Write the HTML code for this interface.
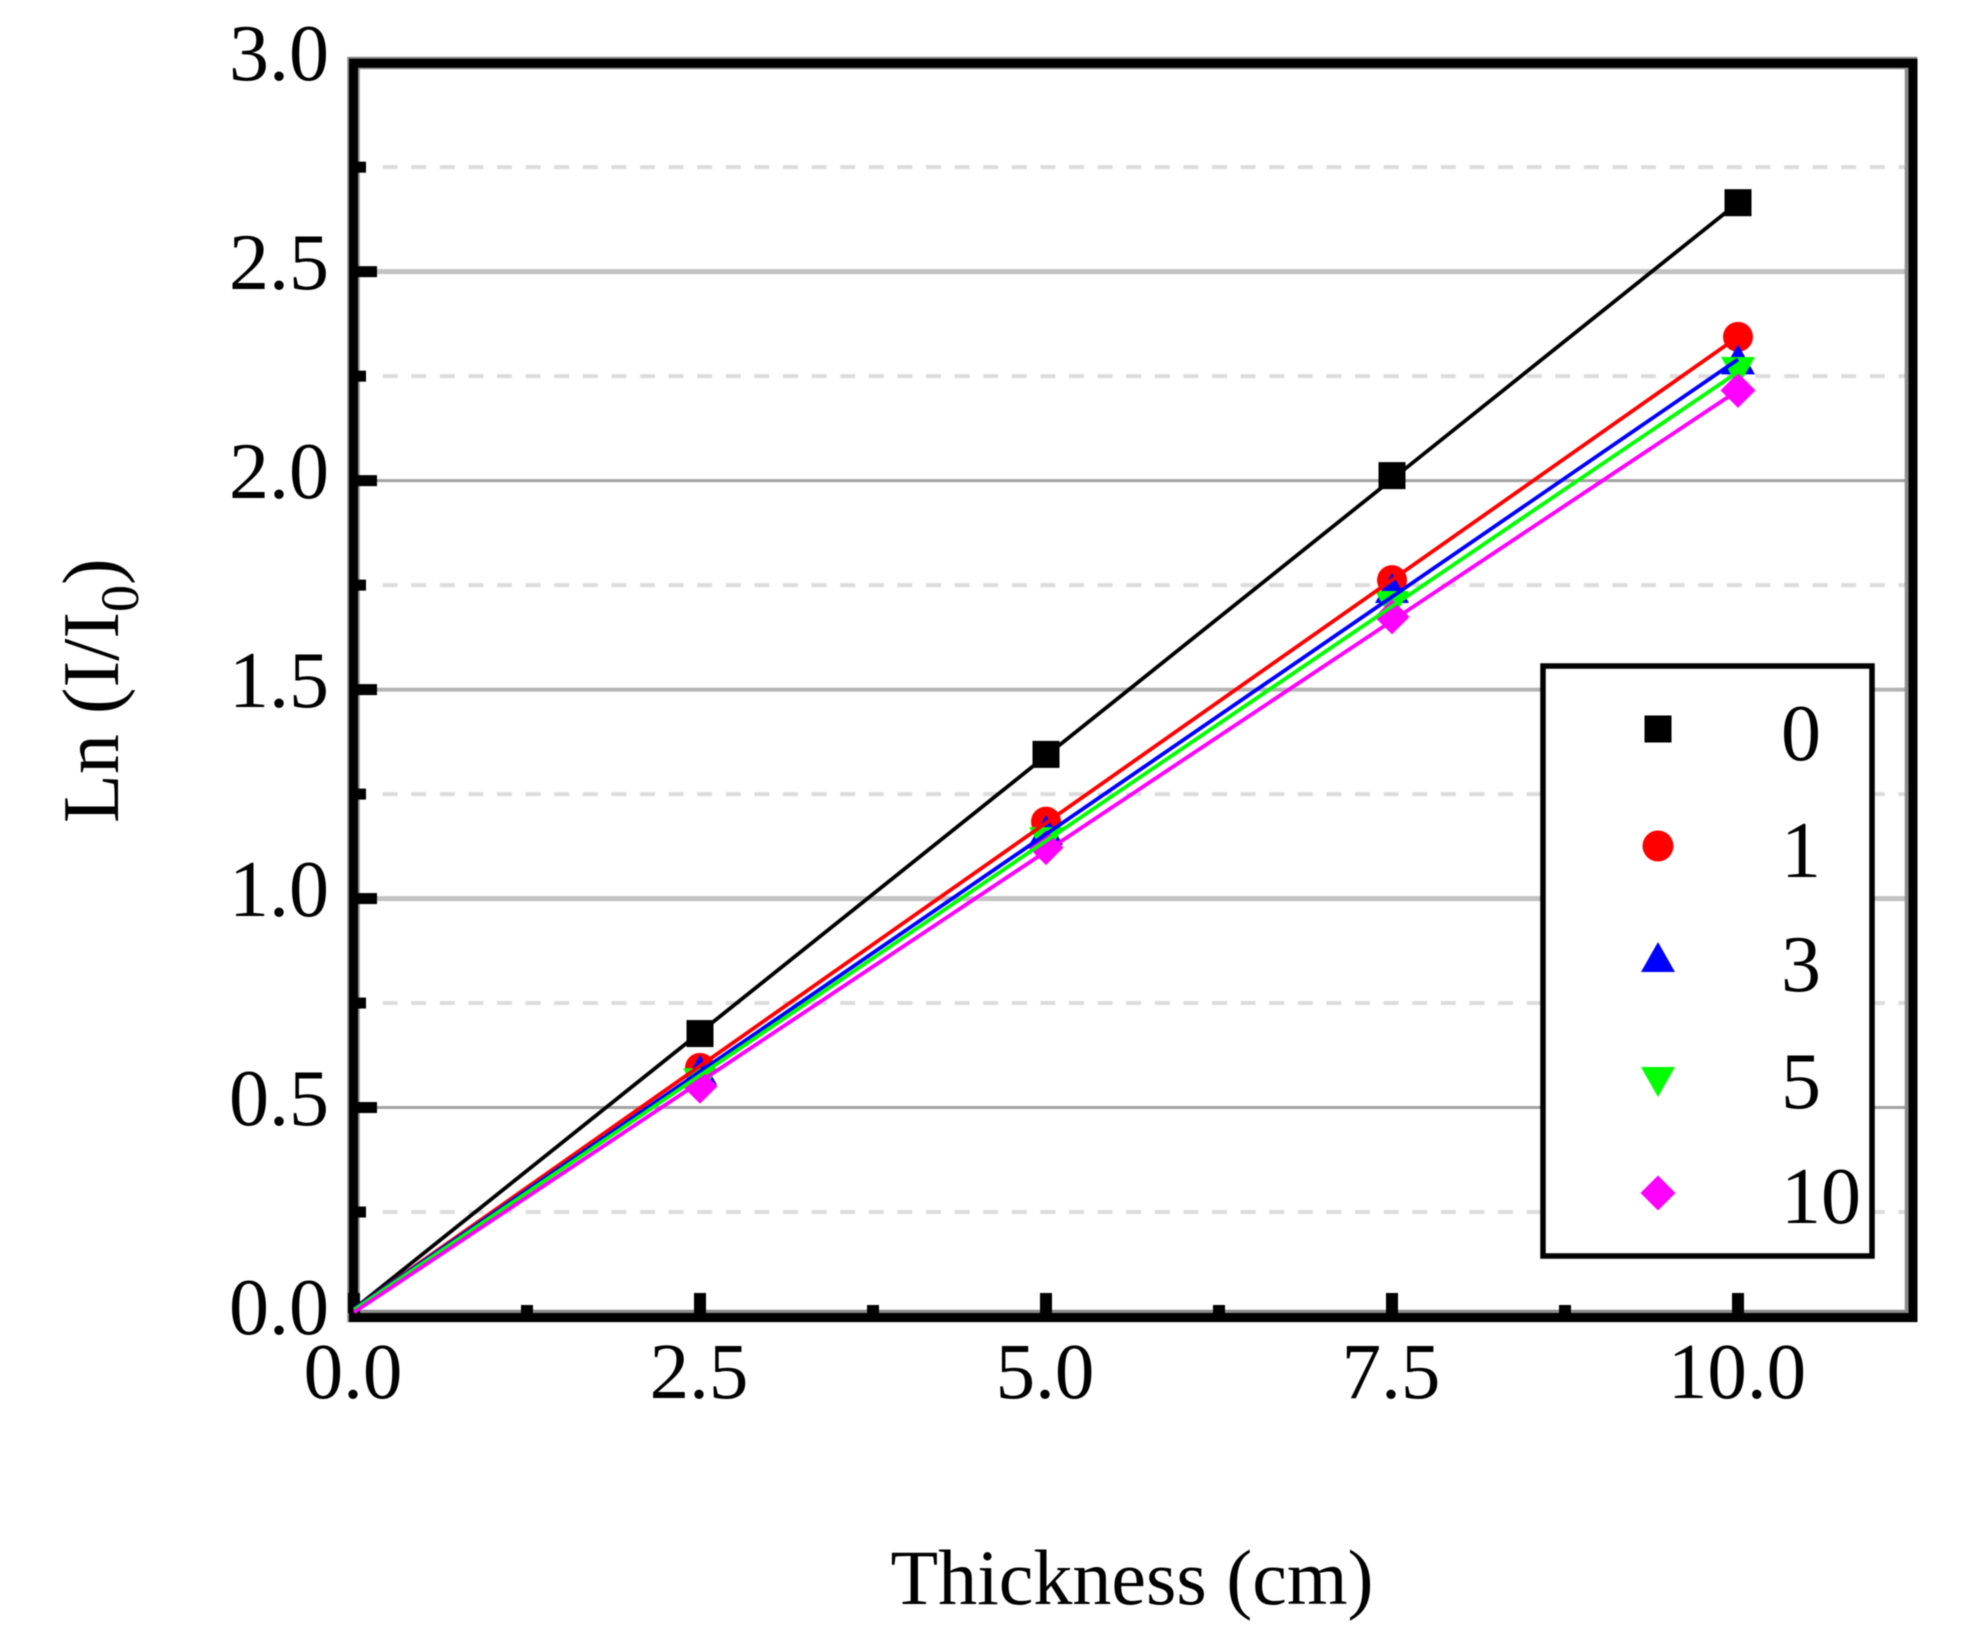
<!DOCTYPE html>
<html lang="en">
<head>
<meta charset="utf-8">
<title>Ln (I/I0) vs Thickness</title>
<style>
html,body{margin:0;padding:0;background:#fff;}
svg{display:block;filter:blur(0.6px);}
text{font-family:"Liberation Serif","DejaVu Serif",serif;fill:#000;}
</style>
</head>
<body>
<svg id="chart" xmlns="http://www.w3.org/2000/svg" width="1973" height="1650" viewBox="0 0 1973 1650">
<rect x="0" y="0" width="1973" height="1650" fill="#fff"/>
<g id="grid"></g>
<g id="axes"></g>
<g id="seriesTop"></g>
<text x="1132" y="1604" font-size="78" text-anchor="middle">Thickness (cm)</text>
<text transform="translate(118 823) rotate(-90)" font-size="80">Ln (I/I<tspan font-size="54" dy="20">0</tspan><tspan dy="-20">)</tspan></text>
<g id="legend"></g>
</svg>
<script>
const thickness = [0, 2.5, 5, 7.5, 10];
const seriesNames = ["0", "1", "3", "5", "10"];
const values0 = [0.018, 0.677, 1.345, 2.012, 2.665];
const values1 = [0.018, 0.595, 1.184, 1.762, 2.344];
const values3 = [0.018, 0.59, 1.164, 1.743, 2.29];
const values5 = [0.016, 0.558, 1.135, 1.70, 2.26];
const values10 = [0.01, 0.551, 1.122, 1.674, 2.216];
const xTickLabels = ["0.0", "2.5", "5.0", "7.5", "10.0"];
const xMajorTicks = [0, 2.5, 5, 7.5, 10];
const xMinorTicks = [1.25, 3.75, 6.25, 8.75];
const yTickLabels = ["0.0", "0.5", "1.0", "1.5", "2.0", "2.5", "3.0"];
const yMajorTicks = [0, 0.5, 1, 1.5, 2, 2.5, 3];
const yMinorTicks = [0.25, 0.75, 1.25, 1.75, 2.25, 2.75];

const X0 = 354, X1 = 1911, Y0 = 1316.5, Y1 = 62.7;
const X_MAX = 11.25, Y_MAX = 3;
function xScale(v){ return X0 + (v / X_MAX) * (X1 - X0); }
function yScale(v){ return Y0 - (v / Y_MAX) * (Y0 - Y1); }

const NS = "http://www.w3.org/2000/svg";
function make(tag, parent, attrs){
  const el = document.createElementNS(NS, tag);
  for (const k in attrs) el.setAttribute(k, attrs[k]);
  parent.appendChild(el);
  return el;
}

function drawMarker(shape, color, cx, cy, parent, big){
  if (shape === "square") {
    return make("rect", parent, {x: cx - 13.5, y: cy - 13.5, width: 27, height: 27, fill: color});
  }
  if (shape === "circle") {
    return make("circle", parent, {cx: cx, cy: cy, r: big ? 15.5 : 15, fill: color});
  }
  if (shape === "up") {
    return make("polygon", parent, {points: (cx-17)+","+(cy+15)+" "+(cx+17)+","+(cy+15)+" "+cx+","+(cy-15), fill: color});
  }
  if (shape === "down") {
    return make("polygon", parent, {points: (cx-17)+","+(cy-15)+" "+(cx+17)+","+(cy-15)+" "+cx+","+(cy+15), fill: color});
  }
  return make("polygon", parent, {points: (cx-17.5)+","+cy+" "+cx+","+(cy-17.5)+" "+(cx+17.5)+","+cy+" "+cx+","+(cy+17.5), fill: color});
}

const gridG = document.getElementById("grid");
yMinorTicks.forEach(function(v){
  const l = make("line", gridG, {x1: 382.6, x2: 1905, y1: yScale(v), y2: yScale(v), stroke: "#dcdcdc", "stroke-width": 4, "stroke-dasharray": "15 13.6"});
  
  
});
yMajorTicks.slice(1, -1).forEach(function(v){
  const wide = v === 2.5 || v === 1;
  const mid = v === 1.5;
  const l = make("line", gridG, {x1: 360, x2: 1905, y1: yScale(v), y2: yScale(v), stroke: wide ? "#c2c2c2" : (mid ? "#b4b4b4" : "#a2a2a2"), "stroke-width": wide ? 5 : (mid ? 4 : 3)});
  
  
});

const seriesG = document.getElementById("seriesTop");
const allValues = [values0, values1, values3, values5, values10];
const colors = ["#000000", "#ff0000", "#0000ff", "#00ff00", "#ff00ff"];
const shapes = ["square", "circle", "up", "down", "diamond"];

const axesG = document.getElementById("axes");
const frameEdge = make("rect", axesG, {x: 353.5, y: 63, width: 1557.5, height: 1253, fill: "none", stroke: "#8c8c8c", "stroke-width": 12.5});


const frame = make("rect", axesG, {x: 353.5, y: 63.2, width: 1559.5, height: 1254.3, fill: "none", stroke: "#000", "stroke-width": 9});



xMajorTicks.forEach(function(v, i){
  const t = make("rect", axesG, {x: xScale(v) - 6, y: 1293, width: 12, height: 20, fill: "#000"});
  
  
  const lab = make("text", axesG, {x: xScale(v) - 1, y: 1398, "font-size": 79, "text-anchor": "middle"});
  lab.textContent = xTickLabels[i];
  
  
});
xMinorTicks.forEach(function(v){
  const t = make("rect", axesG, {x: xScale(v) - 6, y: 1305, width: 12, height: 8, fill: "#000"});
  
  
});
yMajorTicks.forEach(function(v, i){
  if (v > 0 && v < Y_MAX) {
    const t = make("rect", axesG, {x: 358, y: yScale(v) - 5.5, width: 19, height: 11, fill: "#000"});
    
    
  }
  const lab = make("text", axesG, {x: 329, y: yScale(v) + 17.5, "font-size": 80, "text-anchor": "end"});
  lab.textContent = yTickLabels[i];
  
  
});
yMinorTicks.forEach(function(v){
  const t = make("rect", axesG, {x: 358, y: yScale(v) - 5.5, width: 8, height: 11, fill: "#000"});
  
  
});

// markers sit underneath the fit lines
allValues.forEach(function(vals, s){
  thickness.forEach(function(t, i){
    if (t === 0) return;
    const m = drawMarker(shapes[s], colors[s], xScale(t), yScale(vals[i]), seriesG, false);
    
    
  });
});
// straight fit line from first value to last value of each series
allValues.forEach(function(vals, s){
  const last = vals.length - 1;
  const line = make("line", seriesG, {x1: xScale(thickness[0]), y1: yScale(vals[0]), x2: xScale(thickness[last]), y2: yScale(vals[last]), stroke: colors[s], "stroke-width": 3.8});
  
  
});

const legendG = document.getElementById("legend");
const box = make("rect", legendG, {x: 1543, y: 666, width: 329, height: 590, fill: "#fff", stroke: "#000", "stroke-width": 5.5});


const legendRowY = [729, 846, 957, 1082, 1193];
const legendBaseY = [760, 877, 991, 1108, 1223];
seriesNames.forEach(function(name, i){
  const m = drawMarker(shapes[i], colors[i], 1658, legendRowY[i], legendG, true);
  
  
  const t = make("text", legendG, {x: 1781, y: legendBaseY[i], "font-size": 80});
  t.textContent = name;
  
  
});
</script>
</body>
</html>
